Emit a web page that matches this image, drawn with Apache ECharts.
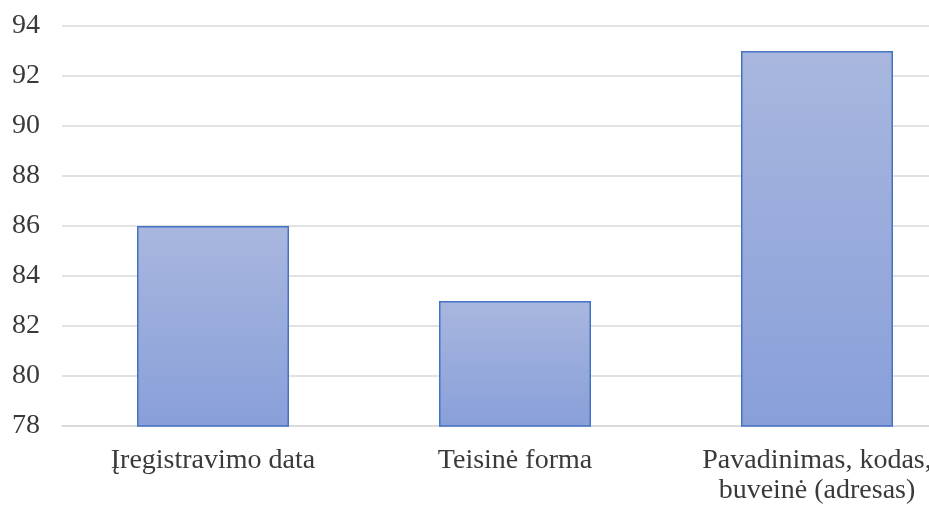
<!DOCTYPE html>
<html>
<head>
<meta charset="utf-8">
<style>
  html, body { margin: 0; padding: 0; background: #ffffff; overflow: hidden; width: 929px; height: 506px; }
  /* the plot continues a little past the right edge of the page */
  #chart { width: 968px; height: 506px; }
</style>
<script src="https://cdn.jsdelivr.net/npm/echarts@6/dist/echarts.min.js"></script>
</head>
<body>
<div id="chart"></div>
<script>
// Categories and values for the bar chart
const categories = ['Įregistravimo data', 'Teisinė forma', 'Pavadinimas, kodas,\nbuveinė (adresas)'];
const values = [86, 83, 93];
const yMin = 78;
const yMax = 94;
const yStep = 2;

const chart = echarts.init(document.getElementById('chart'), null, { renderer: 'canvas' });

const textColor = '#3a3a3a';
const fontFamily = '"Liberation Serif", "Times New Roman", serif';

chart.setOption({
  animation: false,
  backgroundColor: '#ffffff',
  grid: { left: 62, right: 0, top: 26, bottom: 75, containLabel: false },
  xAxis: {
    type: 'category',
    data: categories,
    axisLine: { show: true, lineStyle: { color: '#d9d9d9', width: 1.5 } },
    axisTick: { show: false },
    axisLabel: {
      color: textColor,
      fontFamily: fontFamily,
      fontSize: 28,
      lineHeight: 30,
      margin: 20,
      interval: 0
    }
  },
  yAxis: {
    type: 'value',
    min: yMin,
    max: yMax,
    interval: yStep,
    axisLine: { show: false },
    axisTick: { show: false },
    splitLine: { lineStyle: { color: '#d9d9d9', width: 1.5 } },
    axisLabel: {
      color: textColor,
      fontFamily: fontFamily,
      fontSize: 28,
      margin: 22
    }
  },
  series: [{
    type: 'bar',
    data: values,
    barWidth: 152,
    itemStyle: {
      color: new echarts.graphic.LinearGradient(0, 0, 0, 1, [
        { offset: 0, color: '#a9b7df' },
        { offset: 1, color: '#889fd9' }
      ]),
      borderColor: '#4472c4',
      borderWidth: 1.5
    }
  }]
});
</script>
</body>
</html>
